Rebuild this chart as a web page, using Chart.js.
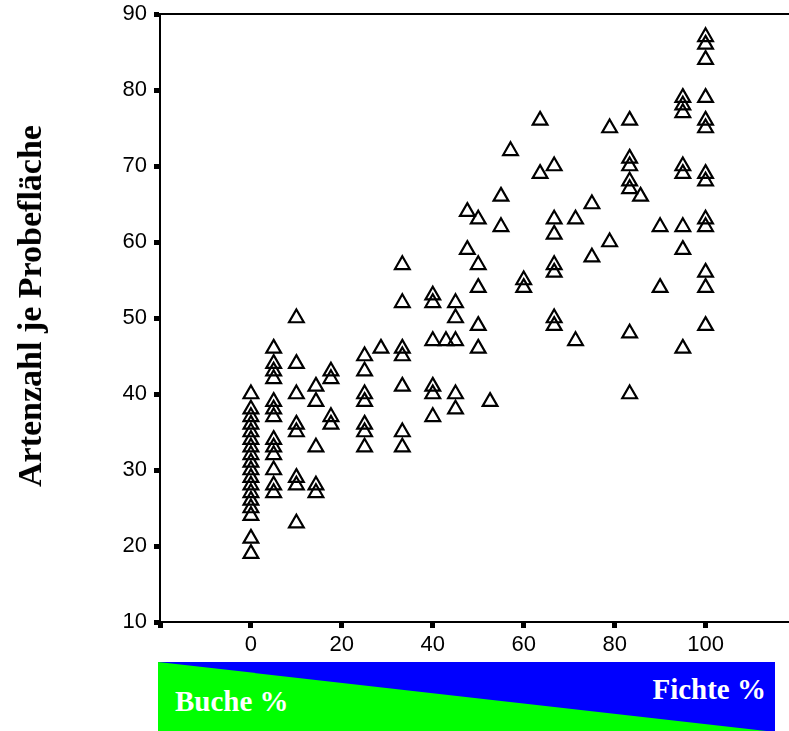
<!DOCTYPE html>
<html>
<head>
<meta charset="utf-8">
<script src="https://cdn.jsdelivr.net/npm/chart.js@4/dist/chart.umd.min.js"></script>
<style>
  html, body { margin: 0; padding: 0; background: #fff; overflow: hidden; }
  /* 10px breiter als das Fenster: Chart.js hält rechts Platz für die Punkte frei */
  #wrap { position: absolute; left: 0; top: 0; width: 799px; height: 660px; }
  #ytitle {
    position: absolute; left: 30px; top: 306px;
    transform: translate(-50%, -50%) rotate(-90deg);
    font: bold 34px "Liberation Serif", "Times New Roman", serif;
    white-space: nowrap; color: #000;
  }
  #banner {
    position: absolute; left: 158px; top: 662px; width: 617px; height: 70px;
    background: #0000ff; overflow: hidden;
  }
  #green {
    position: absolute; left: 0; top: 0; width: 100%; height: 100%;
    background: #00ff00; clip-path: polygon(0 0, 100% 100%, 0 100%);
  }
  .blab {
    position: absolute; color: #fff;
    font: bold 29px "Liberation Serif", "Times New Roman", serif;
    white-space: nowrap; line-height: 1;
  }
</style>
</head>
<body>
<div id="wrap"><canvas id="chart"></canvas></div>
<div id="ytitle">Artenzahl je Probefläche</div>
<div id="banner">
  <div id="green"></div>
  <span class="blab" style="left:17px; top:25px;">Buche %</span>
  <span class="blab" style="right:9px; top:13px;">Fichte %</span>
</div>
<script>
// Fichtenanteil (%) je Spalte
const fichteAnteil = [0, 5, 10, 14.3, 17.6, 25, 28.6, 33.3, 40, 42.9, 45, 47.6, 50, 52.6,
  55, 57.1, 60, 63.6, 66.7, 71.4, 75, 78.9, 83.3, 85.7, 90, 95, 100];

// Artenzahl je Probefläche, eine Liste pro Spalte
const artenzahl = [
  [40, 38, 37, 36, 35, 34, 33, 32, 31, 30, 29, 28, 27, 26, 25, 24, 21, 19],
  [46, 44, 43, 42, 39, 38, 37, 34, 33, 32, 30, 28, 27],
  [50, 44, 40, 36, 35, 29, 28, 23],
  [41, 39, 33, 28, 27],
  [43, 42, 37, 36],
  [45, 43, 40, 39, 36, 35, 33],
  [46],
  [57, 52, 46, 45, 41, 35, 33],
  [53, 52, 47, 41, 40, 37],
  [47],
  [52, 50, 47, 40, 38],
  [64, 59],
  [63, 57, 54, 49, 46],
  [39],
  [66, 62],
  [72],
  [55, 54],
  [76, 69],
  [70, 63, 61, 57, 56, 50, 49],
  [63, 47],
  [65, 58],
  [75, 60],
  [76, 71, 70, 68, 67, 48, 40],
  [66],
  [62, 54],
  [79, 78, 77, 70, 69, 62, 59, 46],
  [87, 86, 84, 79, 76, 75, 69, 68, 63, 62, 56, 54, 49]
];

const xTicks = [-20, 0, 20, 40, 60, 80, 100];
const yTicks = [10, 20, 30, 40, 50, 60, 70, 80, 90];

const punkte = [];
fichteAnteil.forEach((x, i) => {
  artenzahl[i].forEach(y => punkte.push({ x: x, y: y }));
});

// obere Rahmenlinie
const topLine = {
  id: 'topLine',
  afterDraw(chart) {
    const { ctx, chartArea } = chart;
    ctx.save();
    ctx.strokeStyle = '#000';
    ctx.lineWidth = 2;
    ctx.beginPath();
    ctx.moveTo(chartArea.left, chartArea.top);
    ctx.lineTo(chart.width, chartArea.top);
    ctx.stroke();
    ctx.restore();
  }
};

const tickFont = { family: '"Liberation Sans", Arial, sans-serif', size: 22 };

new Chart(document.getElementById('chart'), {
  type: 'scatter',
  data: {
    datasets: [{
      data: punkte,
      pointStyle: 'triangle',
      radius: 8.5,
      hoverRadius: 8.5,
      borderWidth: 2.2,
      borderColor: '#000',
      backgroundColor: 'rgba(0,0,0,0)'
    }]
  },
  options: {
    responsive: true,
    maintainAspectRatio: false,
    animation: false,
    events: [],
    layout: { padding: { top: 14, left: 0, right: 0, bottom: 0 } },
    plugins: { legend: { display: false }, tooltip: { enabled: false } },
    scales: {
      x: {
        type: 'linear',
        min: -20,
        max: 118.2,
        afterBuildTicks: s => { s.ticks = xTicks.map(v => ({ value: v })); },
        afterFit: s => { s.height = 38; s.paddingLeft = 0; s.paddingRight = 0; },
        grid: { drawOnChartArea: false, color: '#000', tickLength: 6, tickWidth: 5 },
        border: { color: '#000', width: 2 },
        ticks: {
          color: '#000', font: tickFont, padding: 4, maxRotation: 0,
          callback: v => v === -20 ? '' : v
        }
      },
      y: {
        min: 10,
        max: 90,
        afterBuildTicks: s => { s.ticks = yTicks.map(v => ({ value: v })); },
        afterFit: s => { s.width = 160; s.paddingTop = 0; s.paddingBottom = 0; },
        grid: { drawOnChartArea: false, color: '#000', tickLength: 6, tickWidth: 5 },
        border: { color: '#000', width: 2 },
        ticks: { color: '#000', font: tickFont, padding: 7 }
      }
    }
  },
  plugins: [topLine]
});
</script>
</body>
</html>
